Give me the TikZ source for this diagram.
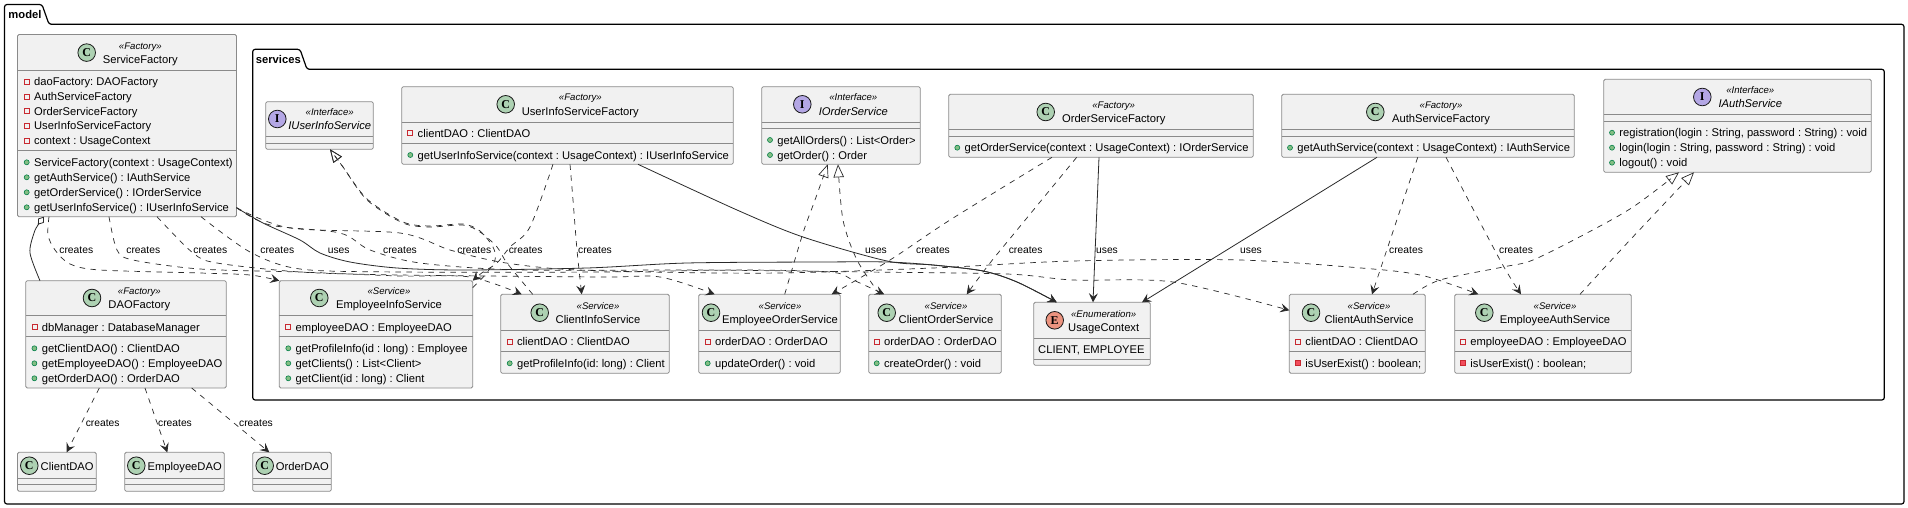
\documentclass[tikz,border=0pt]{standalone}
\usepackage{fontspec}
\setmainfont{Liberation Sans}
\newfontfamily\spotfont{Liberation Serif}
\usetikzlibrary{arrows.meta}
\frenchspacing
\definecolor{boxfill}{HTML}{F1F1F1}
\definecolor{boxline}{HTML}{8A8A8A}
\definecolor{linkline}{HTML}{2A2A2A}
\definecolor{spotclass}{HTML}{ADD1B2}
\definecolor{spotiface}{HTML}{B4A7E5}
\definecolor{spotenum}{HTML}{EB937F}
\definecolor{privline}{HTML}{C82930}
\definecolor{privfill}{HTML}{F24D5C}
\definecolor{publine}{HTML}{038048}
\definecolor{pubfill}{HTML}{84BE84}
\tikzset{
    boxshape/.style={draw=boxline,fill=boxfill,line width=0.8pt,rounded corners=1.5pt,inner sep=0pt,outer sep=0pt,anchor=north west},
    boxrule/.style={draw=boxline,line width=0.8pt},
    pkgshape/.style={draw=black,line width=1.2pt,rounded corners=2.5pt},
    pkgname/.style={inner sep=0pt,anchor=west,font=\fontsize{11.2}{13}\selectfont\bfseries,text height=8pt,text depth=0pt},
    rowtext/.style={inner sep=0pt,anchor=west,font=\fontsize{11.2}{13}\selectfont,text height=8pt,text depth=0pt},
    titletext/.style={inner sep=0pt,font=\fontsize{11.2}{13}\selectfont,text height=8pt,text depth=0pt},
    stereotext/.style={inner sep=0pt,font=\fontsize{9.6}{11}\selectfont\itshape,text height=7pt,text depth=0pt},
    linktext/.style={inner sep=0pt,font=\fontsize{10.3}{12}\selectfont,text height=7.4pt,text depth=0pt},
    spot/.style={circle,draw=black!90,line width=0.8pt,minimum size=17.6pt,inner sep=0pt,font=\spotfont\fontsize{12}{13}\selectfont\bfseries},
    privattr/.style={draw=privline,line width=0.7pt,minimum size=5pt,inner sep=0pt},
    privmeth/.style={draw=privline,fill=privfill,line width=0.7pt,minimum size=5pt,inner sep=0pt},
    pubmeth/.style={circle,draw=publine,fill=pubfill,line width=0.6pt,minimum size=5pt,inner sep=0pt},
    createslink/.style={draw=linkline,line width=0.7pt,dash pattern=on 5.5pt off 5.5pt,-{Stealth[length=9pt,width=9pt,inset=3.5pt]}},
    useslink/.style={draw=linkline,line width=0.8pt,-{Stealth[length=9pt,width=9pt,inset=3.5pt]}},
    reallink/.style={draw=linkline,line width=0.7pt,dash pattern=on 5.5pt off 5.5pt,-{Triangle[open,length=13pt,width=10.5pt]}},
    complink/.style={draw=linkline,line width=0.8pt,{Diamond[open,length=10pt,width=7pt]}-}
}
% name, x1, y1, x2, y2, rule 1, rule 2
\newcommand{\umlbox}[7]{
    \node (#1) [boxshape,minimum width={(#4-#2)*1pt},minimum height={(#5-#3)*1pt}] at (#2,#3) {};
    \draw[boxrule] (#2,#6)--(#4,#6) (#2,#7)--(#4,#7);
}
% name, spot colour, letter, spot x, spot y, text x, stereotype, title
\newcommand{\umlhead}[8]{
    \node (#1spot) [spot,fill=#2] at (#4,#5) {#3};
    \node (#1stereo) [stereotext] at (#6,#5-6.8) {«#7»};
    \node (#1title) [titletext] at (#6,#5+6.8) {#8};
}
% name, icon style, icon x, y, text
\newcommand{\umlrow}[5]{
    \node (#1icon) [#2] at (#3,#4) {};
    \node (#1) [rowtext] at (#3+7.2,#4) {#5};
}

\begin{document}
\begin{tikzpicture}[x=1pt,y=-1pt]
    \useasboundingbox (0,0) rectangle (1908,508);
    \fill[white] (0,0) rectangle (1908,508);
    % packages
    \draw[pkgshape] (4.5,24.3)--(4.5,4.5)--(42,4.5)--(49,24.3)--(1904,24.3)--(1904,504)--(4.5,504)--cycle;
    \node (modelname) [pkgname] at (8.3,14.7) {model};
    \draw[pkgshape] (252.7,69.3)--(252.7,49.3)--(300,49.3)--(307,69.3)--(1884.3,69.3)--(1884.3,400)--(252.7,400)--cycle;
    \node (servicesname) [pkgname] at (255.7,59.3) {services};

    % factories
    \umlbox{sf}{17.5}{34.5}{236.5}{216.7}{70.3}{150.3}
    \umlhead{sf}{spotclass}{C}{86.7}{52.6}{140.3}{Factory}{ServiceFactory}
    \foreach \n/\y/\t in {a/81.7/{daoFactory: DAOFactory},b/96.5/{AuthServiceFactory},c/111.3/{OrderServiceFactory},d/126/{UserInfoServiceFactory},e/141/{context : UsageContext}}{
        \umlrow{sfa\n}{privattr}{26.7}{\y}{\t}
    }
    \foreach \n/\y/\t in {a/162.3/{ServiceFactory(context : UsageContext)},b/177.3/{getAuthService() : IAuthService},c/192.3/{getOrderService() : IOrderService},d/207.3/{getUserInfoService() : IUserInfoService}}{
        \umlrow{sfm\n}{pubmeth}{26.7}{\y}{\t}
    }

    \umlbox{df}{25.7}{280.7}{226.3}{388}{315.3}{336.3}
    \umlhead{df}{spotclass}{C}{92}{298}{139.3}{Factory}{DAOFactory}
    \umlrow{dfa}{privattr}{34.4}{327.3}{dbManager : DatabaseManager}
    \foreach \n/\y/\t in {a/348.3/{getClientDAO() : ClientDAO},b/363.3/{getEmployeeDAO() : EmployeeDAO},c/378.3/{getOrderDAO() : OrderDAO}}{
        \umlrow{dfm\n}{pubmeth}{34.4}{\y}{\t}
    }

    % dao classes
    \foreach \n/\a/\b/\s/\m/\t in {cd/17.5/96.3/29.3/67.2/ClientDAO,ed/124.7/224.3/136.3/184.7/EmployeeDAO,od/252.7/331.3/264.7/302.3/OrderDAO}{
        \umlbox{\n}{\a}{452.3}{\b}{491.3}{478.3}{484.7}
        \node (\n spot) [spot,fill=spotclass] at (\s,465.7) {C};
        \node (\n title) [titletext] at (\m,466) {\t};
    }

    % services package
    \umlbox{iuis}{265.7}{101.7}{373.3}{149.3}{136.7}{143.7}
    \umlhead{iuis}{spotiface}{I}{277.3}{119}{329.7}{Interface}{\itshape IUserInfoService}

    \umlbox{uisf}{401.7}{86.7}{733.3}{164.3}{122.3}{143.3}
    \umlhead{uisf}{spotclass}{C}{505.7}{104.3}{580.3}{Factory}{UserInfoServiceFactory}
    \umlrow{uisfa}{privattr}{410.3}{133.3}{clientDAO : ClientDAO}
    \umlrow{uisfm}{pubmeth}{410.3}{155}{getUserInfoService(context : UsageContext) : IUserInfoService}

    \umlbox{ios}{761.7}{86.7}{920.3}{164.3}{122.3}{128.7}
    \umlhead{ios}{spotiface}{I}{802.3}{104.3}{853.3}{Interface}{\itshape IOrderService}
    \umlrow{iosa}{pubmeth}{770}{140}{getAllOrders() : List<Order>}
    \umlrow{iosb}{pubmeth}{770}{155}{getOrder() : Order}

    \umlbox{osf}{948.7}{94.3}{1253.3}{157.3}{129.3}{136.3}
    \umlhead{osf}{spotclass}{C}{1045.7}{112}{1113.7}{Factory}{OrderServiceFactory}
    \umlrow{osfm}{pubmeth}{957.3}{147.7}{getOrderService(context : UsageContext) : IOrderService}

    \umlbox{asf}{1281.7}{94.3}{1574.3}{157.3}{129.3}{136.3}
    \umlhead{asf}{spotclass}{C}{1375.3}{112}{1441}{Factory}{AuthServiceFactory}
    \umlrow{asfm}{pubmeth}{1290}{147.7}{getAuthService(context : UsageContext) : IAuthService}

    \umlbox{ias}{1603.7}{79.3}{1871.3}{172.3}{114.3}{121.7}
    \umlhead{ias}{spotiface}{I}{1702.3}{97}{1750.3}{Interface}{\itshape IAuthService}
    \foreach \n/\y/\t in {a/132.7/{registration(login : String, password : String) : void},b/147.7/{login(login : String, password : String) : void},c/162.7/{logout() : void}}{
        \umlrow{ias\n}{pubmeth}{1612}{\y}{\t}
    }

    \umlbox{eis}{279.3}{280.7}{472.7}{388}{315.3}{336.3}
    \umlhead{eis}{spotclass}{C}{319.3}{298}{389}{Service}{EmployeeInfoService}
    \umlrow{eisa}{privattr}{288.3}{327.3}{employeeDAO : EmployeeDAO}
    \foreach \n/\y/\t in {a/348.3/{getProfileInfo(id : long) : Employee},b/363.3/{getClients() : List<Client>},c/378.3/{getClient(id : long) : Client}}{
        \umlrow{eism\n}{pubmeth}{288.3}{\y}{\t}
    }

    % small service classes, all of one height
    \foreach \n/\a/\b/\s/\m/\i/\t/\f/\g/\h in {
        cis/500.7/669.3/539.7/598/509.7/ClientInfoService/{clientDAO : ClientDAO}/pubmeth/{getProfileInfo(id: long) : Client},
        eos/698.7/840.3/711/780/707.7/EmployeeOrderService/{orderDAO : OrderDAO}/pubmeth/{updateOrder() : void},
        cos/868.7/1001.3/886.7/946/876.7/ClientOrderService/{orderDAO : OrderDAO}/pubmeth/{createOrder() : void},
        cas/1289.3/1425.3/1311/1369/1298/ClientAuthService/{clientDAO : ClientDAO}/privmeth/{isUserExist() : boolean;},
        eas/1454.7/1631.3/1484.3/1555/1463/EmployeeAuthService/{employeeDAO : EmployeeDAO}/privmeth/{isUserExist() : boolean;}}{
        \umlbox{\n}{\a}{294.3}{\b}{373.3}{330}{351.7}
        \umlhead{\n}{spotclass}{C}{\s}{312.7}{\m}{Service}{\t}
        \umlrow{\n a}{privattr}{\i}{341.7}{\f}
        \umlrow{\n m}{\g}{\i}{363.3}{\h}
    }

    \umlbox{uc}{1033.7}{302.3}{1150.3}{365.3}{338.3}{359.3}
    \umlhead{uc}{spotenum}{E}{1054.7}{320.3}{1103.7}{Enumeration}{UsageContext}
    \node (uca) [rowtext] at (1038,349.3) {CLIENT, EMPLOYEE};

    % service factory links
    \draw[complink] plot[smooth] coordinates {([xshift=26.5]sf.south west) (38,225) (34,233) (30,253) ([xshift=14.3]df.north west)};
    \draw[createslink] plot[smooth] coordinates {([xshift=31.5]sf.south west) (48,235) (55,250) (70,264) (100,270) (200,273) (250,275) (eis.north west)};
    \draw[createslink] plot[smooth] coordinates {([xshift=91.5]sf.south west) (117,250) (133,260) (200,269) (300,272) (400,276) (470,277) ([xshift=21]cis.north west)};
    \draw[createslink] plot[smooth] coordinates {([xshift=139.5]sf.south west) (193,253) (217,263) (300,272) (400,275) (600,277) (660,277) ([xshift=16]eos.north west)};
    \draw[createslink] plot[smooth] coordinates {([xshift=183.5]sf.south west) (250,252) (300,269) (400,272) (600,272) (737,270) (830,272) (853,280) ([xshift=15.5]cos.north west)};
    \draw[createslink] plot[smooth] coordinates {([yshift=9]sf.south east) (270,225) (340,233) (370,250) (420,263) (520,270) (700,270) (866,272) (1007,274) (1073,280) (1173,282) ([yshift=-16]cas.north west)};
    \draw[createslink] plot[smooth] coordinates {([yshift=9]sf.south east) (290,228) (400,233) (450,250) (500,262) (560,269) (650,272) (780,273) (933,268) (1073,261) (1240,260) (1373,269) (1420,275) (1453,285) ([xshift=23.6]eas.north west)};
    \draw[useslink] plot[smooth] coordinates {([yshift=9]sf.south east) (263,223) (300,240) (320,253) (350,262) (397,268) (463,270) (587,268) (687,263) (820,262) (887,262) (933,265) (983,271) (1017,282) ([xshift=23]uc.north west)};

    % user info links
    \draw[reallink] plot[smooth] coordinates {([xshift=32]cis.north west) (507,263) (497,247) (480,232) (463,225) (430,227) (403,223) (367,200) (343,167) ([xshift=64.3]iuis.south west)};
    \draw[reallink] plot[smooth] coordinates {([yshift=-7]eis.north east) (485,275) (495,260) (493,247) (480,231) (463,224) (430,226) (403,222) (367,199) (343,167) ([xshift=64.3]iuis.south west)};
    \draw[createslink] plot[smooth] coordinates {([xshift=151.3]uisf.south west) (530,227) (510,247) (497,263) (483,272) (eis.north east)};
    \draw[createslink] plot[smooth] coordinates {([xshift=168.3]uisf.south west) (573,200) (577,250) ([xshift=81]cis.north west)};
    \draw[useslink] plot[smooth] coordinates {([xshift=236.3]uisf.south west) (737,210) (803,237) (887,261) (933,265) (983,271) (1017,282) ([xshift=23]uc.north west)};

    % order links
    \draw[reallink] plot[smooth] coordinates {([xshift=86]eos.north west) (803,233) (815,200) ([xshift=66]ios.south west)};
    \draw[reallink] plot[smooth] coordinates {([xshift=11]cos.north west) (857,260) (843,220) ([xshift=76.3]ios.south west)};
    \draw[createslink] plot[smooth] coordinates {([xshift=103.3]osf.south west) (950,220) (890,260) ([xshift=133]eos.north west)};
    \draw[createslink] plot[smooth] coordinates {([xshift=128]osf.south west) (1017,230) (990,263) ([xshift=98]cos.north west)};
    \draw[useslink] ([xshift=150.3]osf.south west)--([xshift=59.3]uc.north west);

    % auth links
    \draw[useslink] ([xshift=95.3]asf.south west)--([xshift=108.3]uc.north west);
    \draw[createslink] ([xshift=136]asf.south west)--([xshift=82.7]cas.north west);
    \draw[createslink] plot[smooth] coordinates {([xshift=164.3]asf.south west) (1500,260) ([xshift=66.3]eas.north west)};
    \draw[reallink] plot[smooth] coordinates {([xshift=123.7]cas.north west) (1440,280) (1503,267) (1533,260) (1587,233) (1633,207) ([xshift=75.3]ias.south west)};
    \draw[reallink] plot[smooth] coordinates {([xshift=125.3]eas.north west) (1630,240) ([xshift=90.3]ias.south west)};

    % dao links
    \draw[createslink] ([xshift=73.6]df.south west)--([xshift=49.2]cd.north west);
    \draw[createslink] ([xshift=119.3]df.south west)--([xshift=42.6]ed.north west);
    \draw[createslink] ([xshift=166]df.south west)--([xshift=16.6]od.north west);

    % link labels
    \foreach \n/\x in {a/76.3,b/143.3,c/210.3,d/277.3,e/400,f/474.3,g/525.7,h/595,i/933,j/1025.7,k/1406,l/1516}{
        \node (creates\n) [linktext] at (\x,249.3) {creates};
    }
    \foreach \n/\x in {a/338.7,b/876,c/1107,d/1251}{
        \node (uses\n) [linktext] at (\x,249.3) {uses};
    }
    \foreach \n/\x in {m/102.7,n/175,o/256}{
        \node (creates\n) [linktext] at (\x,422.3) {creates};
    }
\end{tikzpicture}
\end{document}
